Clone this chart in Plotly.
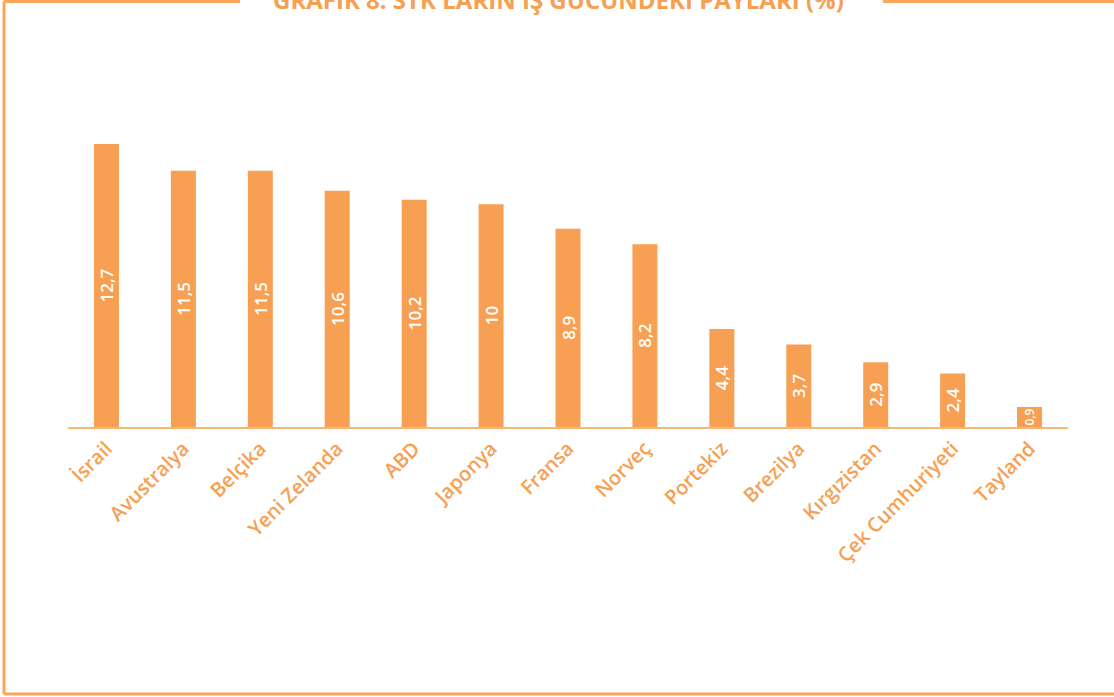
import plotly.graph_objects as go

countries = ["İsrail", "Avustralya", "Belçika", "Yeni Zelanda", "ABD", "Japonya", "Fransa",
             "Norveç", "Portekiz", "Brezilya", "Kırgızistan", "Çek Cumhuriyeti", "Tayland"]
values = [12.7, 11.5, 11.5, 10.6, 10.2, 10, 8.9, 8.2, 4.4, 3.7, 2.9, 2.4, 0.9]
labels = [("%g" % v).replace(".", ",") for v in values]
title_text = "GRAFİK 8: STK'LARIN İŞ GÜCÜNDEKİ PAYLARI (%)"

BAR = "#F79F52"
AXIS = "#F9B47A"
BORDER = "#F9A55A"
FONT = "Open Sans"

W, H = 1114, 697
# plot area in page pixels
L, R, T, B = 68, 1068, 115, 427


def px(x):
    return (x - L) / (R - L)


def py(y):
    return (B - y) / (B - T)


# label font: shrink only where the bar is too short to hold it
label_sizes = [17 if v >= 1.5 else 12 for v in values]

fig = go.Figure(go.Bar(
    x=countries, y=values, text=labels,
    marker=dict(color=BAR, line=dict(width=0)),
    width=0.325,
    textposition="inside", insidetextanchor="middle", textangle=-90,
    constraintext="none",
    textfont=dict(color="white", size=label_sizes, family=FONT, weight=600),
    cliponaxis=False,
    hoverinfo="skip",
))

border = dict(color=BORDER, width=3)
shapes = [
    dict(type="line", xref="paper", yref="paper", x0=px(4), x1=px(4), y0=py(1.5), y1=py(694), line=border),
    dict(type="line", xref="paper", yref="paper", x0=px(4), x1=px(1120), y0=py(694), y1=py(694), line=border),
    dict(type="line", xref="paper", yref="paper", x0=px(4), x1=px(240), y0=py(1.5), y1=py(1.5), line=border),
    dict(type="line", xref="paper", yref="paper", x0=px(883), x1=px(1120), y0=py(1.5), y1=py(1.5), line=border),
]

fig.update_layout(
    width=W, height=H,
    margin=dict(l=L, r=W - R, t=T, b=H - B, autoexpand=False),
    paper_bgcolor="white", plot_bgcolor="white",
    showlegend=False,
    shapes=shapes,
    annotations=[dict(
        text="<b>" + title_text + "</b>", xref="paper", yref="paper",
        x=px(558), y=py(-1), xanchor="center", yanchor="middle", showarrow=False,
        font=dict(family=FONT, size=24, color=BAR),
    )],
    xaxis=dict(
        showline=True, linecolor=AXIS, linewidth=2, ticks="", showgrid=False,
        tickangle=-45, tickfont=dict(family=FONT, size=20, color=BAR, weight=600),
        range=[-0.5, len(countries) - 0.5],
    ),
    yaxis=dict(range=[0, 14], visible=False, showgrid=False, zeroline=False),
    font=dict(family=FONT),
)

fig.write_html(
    "out.html",
    config={"displayModeBar": False},
    post_script="document.body.style.margin='0';document.body.style.overflow='hidden';",
)
